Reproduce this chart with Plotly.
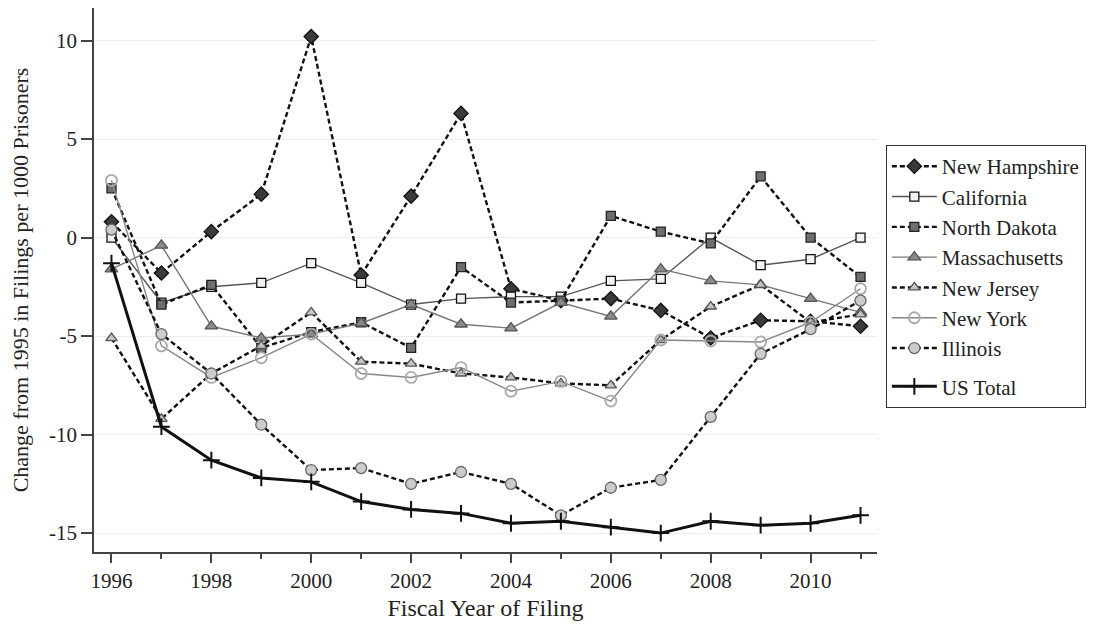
import plotly.graph_objects as go

years = list(range(1996, 2012))

new_hampshire = [0.8, -1.8, 0.3, 2.2, 10.2, -1.9, 2.1, 6.3, -2.6, -3.2, -3.1, -3.7, -5.1, -4.2, -4.25, -4.5]
california = [0.0, -3.3, -2.5, -2.3, -1.3, -2.3, -3.4, -3.1, -3.0, -3.0, -2.2, -2.1, 0.0, -1.4, -1.1, 0.0]
north_dakota = [2.5, -3.4, -2.4, -5.6, -4.8, -4.3, -5.6, -1.5, -3.3, -3.2, 1.1, 0.3, -0.3, 3.1, 0.0, -2.0]
massachusetts = [-1.6, -0.4, -4.5, -5.1, -4.9, -4.35, -3.4, -4.4, -4.6, -3.3, -4.0, -1.6, -2.2, -2.4, -3.1, -3.8]
new_jersey = [-5.1, -9.2, -6.9, -5.5, -3.8, -6.3, -6.4, -6.9, -7.1, -7.4, -7.5, -5.2, -3.5, -2.4, -4.3, -3.9]
new_york = [2.9, -5.5, -7.1, -6.1, -4.9, -6.9, -7.1, -6.6, -7.8, -7.3, -8.3, -5.2, -5.25, -5.3, -4.3, -2.6]
illinois = [0.4, -4.9, -6.9, -9.5, -11.8, -11.7, -12.5, -11.9, -12.5, -14.1, -12.7, -12.3, -9.1, -5.9, -4.65, -3.2]
us_total = [-1.3, -9.6, -11.3, -12.2, -12.4, -13.4, -13.8, -14.0, -14.5, -14.4, -14.7, -15.0, -14.4, -14.6, -14.5, -14.1]

x_ticks = [1996, 1998, 2000, 2002, 2004, 2006, 2008, 2010]
x_minor = [1997, 1999, 2001, 2003, 2005, 2007, 2009, 2011]
y_ticks = [-15, -10, -5, 0, 5, 10]

FONT = "Liberation Serif, Times New Roman, serif"
DASH = "5px,3px"

series = [
    ("New Hampshire", new_hampshire, DASH, "#111111", 2.4, "diamond", "#3a3a3a", "#111111", 11),
    ("California", california, "solid", "#555555", 1.4, "square", "#f2f2f2", "#111111", 9),
    ("North Dakota", north_dakota, DASH, "#111111", 2.4, "square", "#6e6e6e", "#222222", 9),
    ("Massachusetts", massachusetts, "solid", "#777777", 1.4, "triangle-up", "#8a8a8a", "#555555", 11),
    ("New Jersey", new_jersey, DASH, "#111111", 2.4, "triangle-up", "#c4c4c4", "#555555", 10),
    ("New York", new_york, "solid", "#888888", 1.4, "circle-open", "#aaaaaa", "#aaaaaa", 11),
    ("Illinois", illinois, DASH, "#111111", 2.4, "circle", "#cccccc", "#666666", 11),
]

fig = go.Figure()
for name, vals, dash, lcol, lw, sym, fcol, ecol, size in series:
    marker = dict(symbol=sym, size=size, color=fcol, line=dict(color=ecol, width=1.3))
    if sym == "circle-open":
        marker = dict(symbol=sym, size=size, color=ecol, line=dict(width=1.8))
    fig.add_trace(go.Scatter(
        x=years, y=vals, name=name, mode="lines+markers",
        line=dict(color=lcol, width=lw, dash=dash),
        marker=marker, legendgroup="states",
    ))

fig.add_trace(go.Scatter(
    x=years, y=us_total, name="US Total", mode="lines+markers",
    line=dict(color="#111111", width=3),
    marker=dict(symbol="cross-thin", size=12, color="#111111", line=dict(color="#111111", width=2)),
    legendgroup="us",
))

fig.update_layout(
    width=1093, height=626,
    margin=dict(l=94, r=215, t=8, b=74),
    plot_bgcolor="white", paper_bgcolor="white",
    font=dict(family=FONT, size=21, color="#222222"),
    showlegend=True,
    legend=dict(
        x=1.01, xanchor="left", y=0.748, yanchor="top",
        bordercolor="#333333", borderwidth=1, bgcolor="white",
        font=dict(family=FONT, size=21, color="#222222"),
        tracegroupgap=8, traceorder="grouped", itemwidth=45,
    ),
    xaxis=dict(
        range=[1995.65, 2011.33], tickmode="array", tickvals=x_ticks,
        ticktext=[str(v) for v in x_ticks],
        ticks="outside", ticklen=9, tickwidth=1.5, tickcolor="#444444",
        minor=dict(tickmode="array", tickvals=x_minor,
                   ticks="outside", ticklen=5, tickwidth=1.5, tickcolor="#444444", showgrid=False),
        showline=True, linecolor="#444444", linewidth=1.8,
        showgrid=False, zeroline=False, automargin=False,
        tickfont=dict(family=FONT, size=21, color="#222222"),
        title=dict(text="Fiscal Year of Filing", font=dict(family=FONT, size=24, color="#222222"), standoff=7),
    ),
    yaxis=dict(
        range=[-15.96, 11.65], tickmode="array", tickvals=y_ticks,
        ticktext=[str(v) for v in y_ticks],
        ticks="outside", ticklen=11, tickwidth=1.5, tickcolor="#444444",
        showline=True, linecolor="#444444", linewidth=1.8,
        showgrid=True, gridcolor="#e6f0f0", gridwidth=1.2, zeroline=False, automargin=False,
        tickfont=dict(family=FONT, size=21, color="#222222"),
        title=dict(text="Change from 1995 in Filings per 1000 Prisoners",
                   font=dict(family=FONT, size=22, color="#222222"), standoff=14),
    ),
)

fig.write_html("out.html", config={"displayModeBar": False},
               post_script="document.body.style.margin='0';document.body.style.overflow='hidden';")
